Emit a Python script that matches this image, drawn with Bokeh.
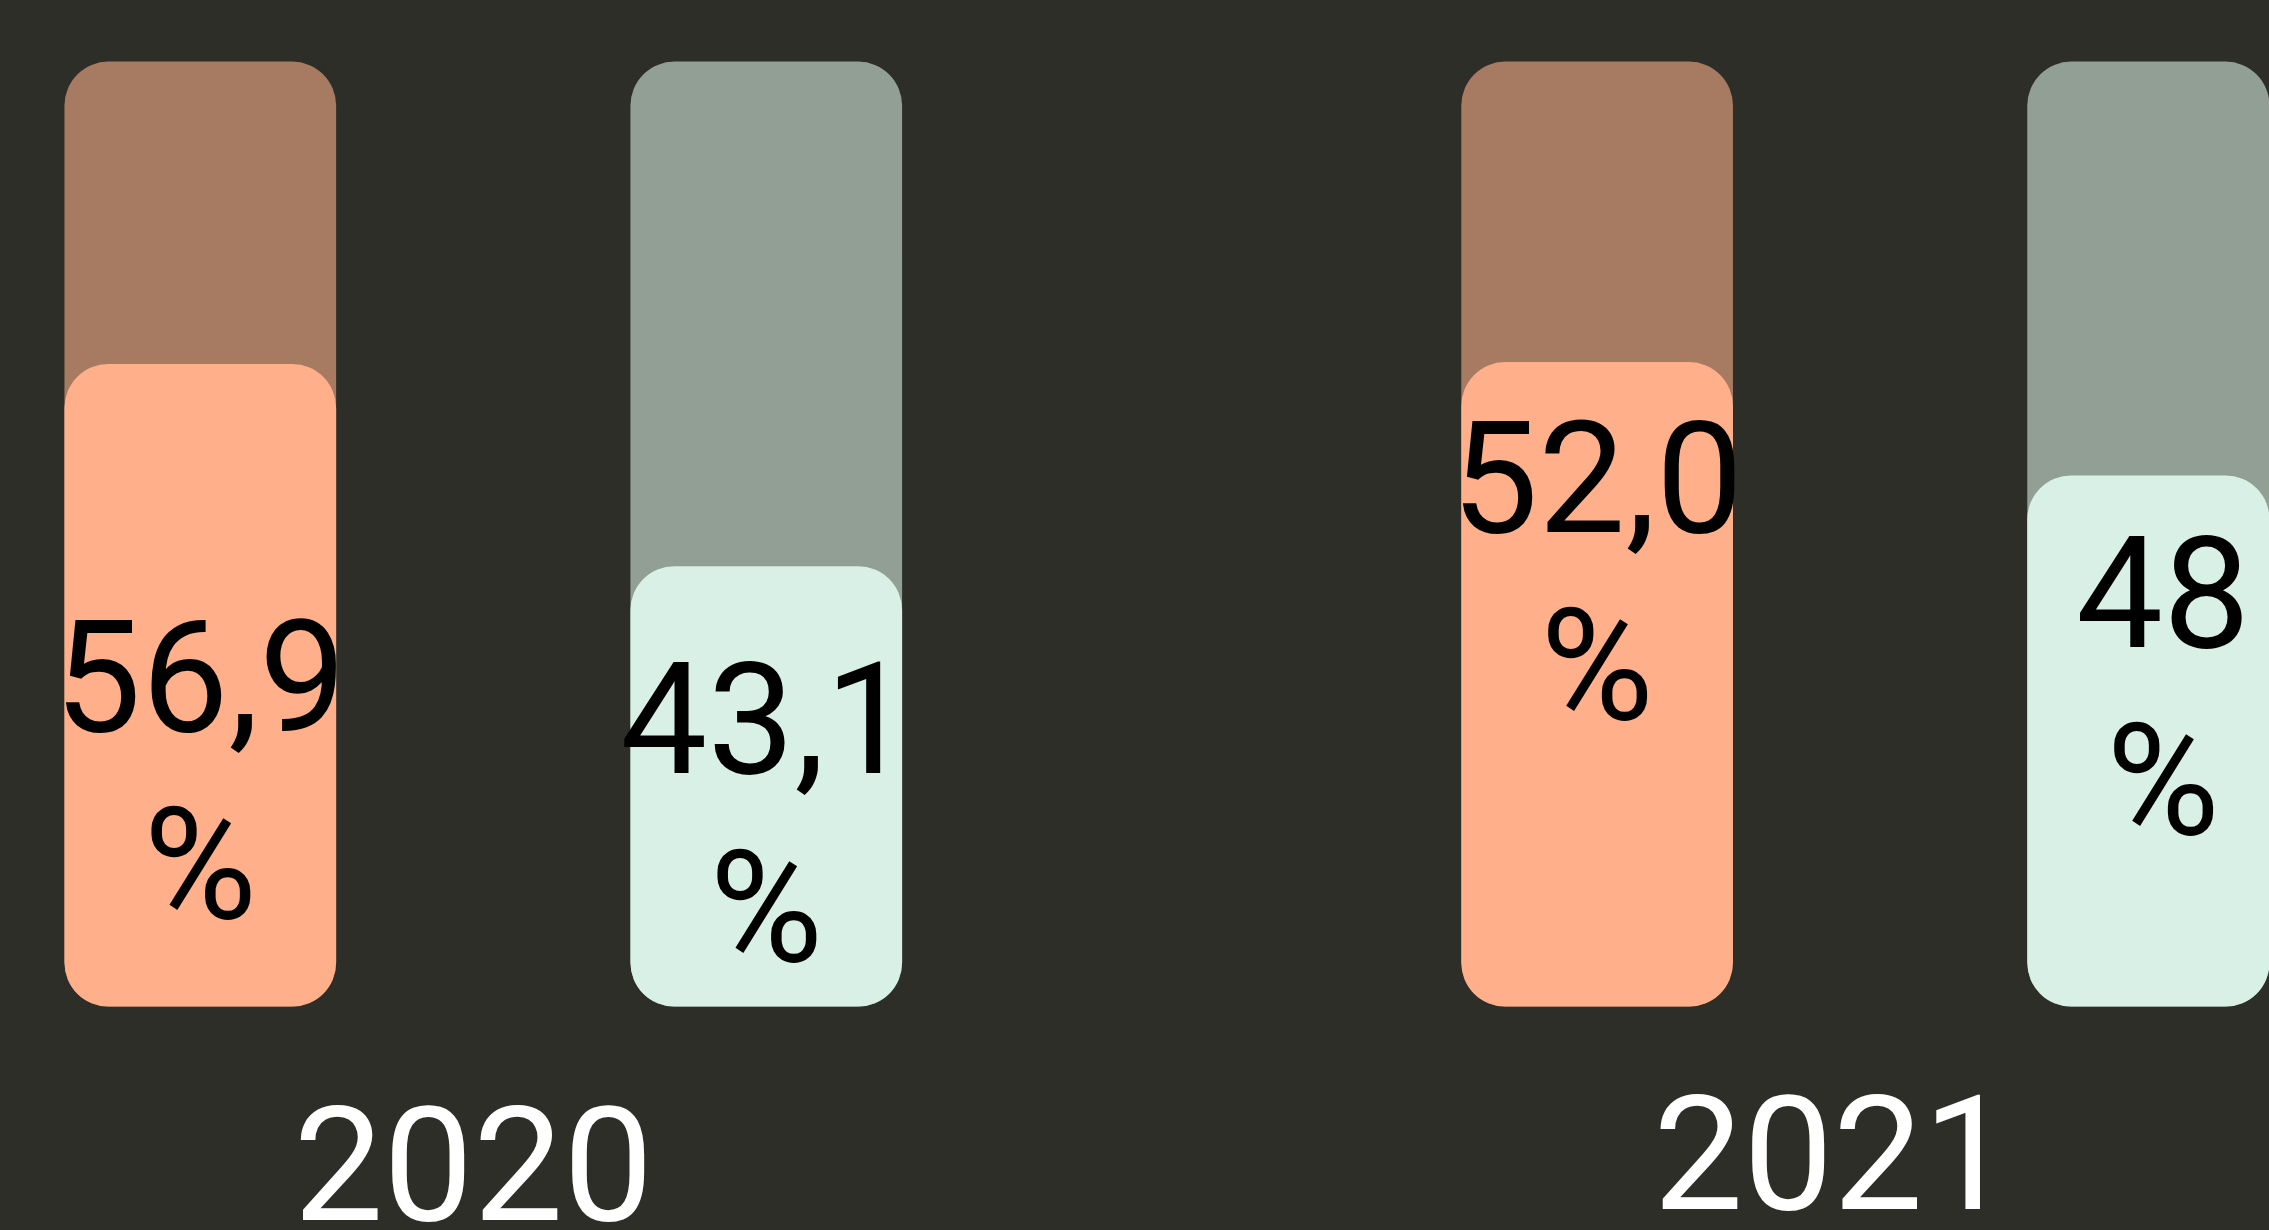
from bokeh.plotting import figure
from bokeh.models import ColumnDataSource, Range1d
from bokeh.core.properties import value
from bokeh.embed import file_html
from bokeh.resources import INLINE

# ---------------- data ----------------
years = ["2020", "2021"]
series = ["a", "b"]                       # two bars per year
shares = [56.9, 43.1, 52.0, 48.0]         # printed values
share_labels = ["56,9", "43,1", "52,0", "48"]
fill_levels = [68.0, 46.6, 68.2, 56.2]    # fill height as drawn (percent of track)
track_full = [100, 100, 100, 100]

# ---------------- styling / layout ----------------
BG = "#2e2e29"
track_colors = ["#a77b62", "#929f95", "#a77b62", "#929f95"]
fill_colors = ["#ffb08a", "#d9f0e7", "#ffb08a", "#d9f0e7"]
FONT = "Roboto"
group_pitch = 2.468
bar_w = 0.48
label_drop = [23.6, 6.7, 2.75, 2.9]       # label top below fill level (data units)
year_dx = [-10, -47]                      # px nudge of year labels
year_y = [-10.5, -9.4]

xs = []
for gi, _ in enumerate(years):
    for si, _ in enumerate(series):
        xs.append(gi * group_pitch + si)

labels = [f"{t}\n%" for t in share_labels]
label_y = [f - d for f, d in zip(fill_levels, label_drop)]

src = ColumnDataSource(dict(
    x=xs, full=track_full, fill=fill_levels, tcol=track_colors,
    fcol=fill_colors, label=labels, ly=label_y, share=shares,
))

p = figure(width=2269, height=1230, output_backend="svg", toolbar_location=None,
           x_range=Range1d(-0.353, 3.656), y_range=Range1d(-23.7, 106.46),
           min_border=0, background_fill_color=BG, border_fill_color=BG,
           outline_line_color=None)
p.axis.visible = False
p.grid.visible = False

p.vbar(x="x", top="full", bottom=0, width=bar_w, source=src,
       fill_color="tcol", line_color=None, border_radius=44)
p.vbar(x="x", top="fill", bottom=0, width=bar_w, source=src,
       fill_color="fcol", line_color=None, border_radius=44)

p.text(x="x", y="ly", text="label", source=src, text_align="center",
       text_baseline="top", text_color="#000000", text_font=value(FONT),
       text_font_size="155px", text_line_height=1.03)

for gi, yr in enumerate(years):
    ysrc = ColumnDataSource(dict(x=[gi * group_pitch + 0.5], y=[year_y[gi]], t=[yr]))
    p.text(x="x", y="y", text="t", source=ysrc, text_align="center",
           text_baseline="top", text_color="#ffffff", text_font=value(FONT),
           text_font_size="160px", x_offset=year_dx[gi])

html = file_html(p, INLINE)
html = html.replace("<body>", f'<body style="background:{BG}">')
open("out.html", "w").write(html)
